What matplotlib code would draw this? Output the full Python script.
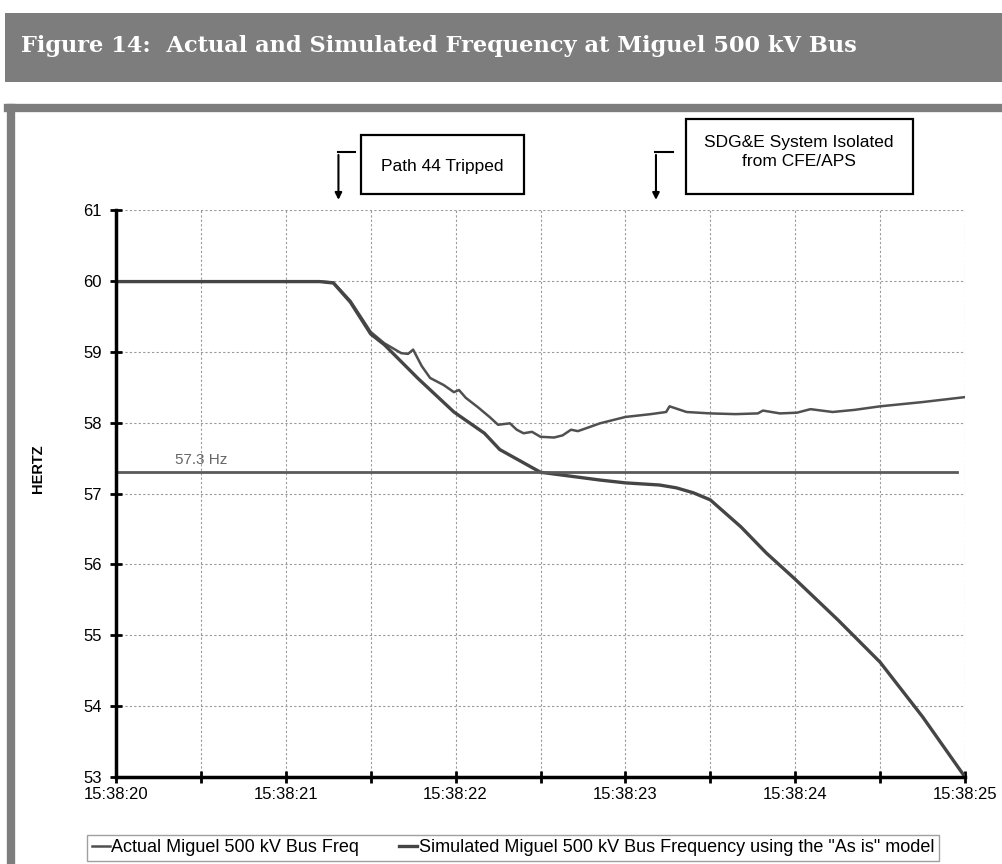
import matplotlib
matplotlib.use("Agg")
import matplotlib.pyplot as plt
from matplotlib.patches import Rectangle
from matplotlib.lines import Line2D
import matplotlib.transforms as mtransforms

plt.rcParams['font.family'] = ['Liberation Sans', 'DejaVu Sans']

# seconds after 15:38:20
actual_t = [0.0, 1.20, 1.28, 1.38, 1.50, 1.58, 1.68, 1.72, 1.75, 1.80, 1.85, 1.93,
            1.99, 2.02, 2.06, 2.13, 2.20, 2.25, 2.32, 2.36, 2.40, 2.45, 2.50, 2.58,
            2.63, 2.68, 2.72, 2.78, 2.85, 3.00, 3.15, 3.24, 3.26, 3.36, 3.50, 3.65,
            3.78, 3.81, 3.91, 4.01, 4.09, 4.22, 4.35, 4.50, 4.75, 5.0]
actual_f = [59.99, 59.99, 59.98, 59.72, 59.28, 59.12, 58.98, 58.97, 59.03, 58.80, 58.63, 58.53,
            58.43, 58.46, 58.35, 58.22, 58.08, 57.97, 57.99, 57.90, 57.85, 57.87, 57.80, 57.79,
            57.82, 57.90, 57.88, 57.93, 57.99, 58.08, 58.12, 58.15, 58.23, 58.15, 58.13, 58.12,
            58.13, 58.17, 58.13, 58.14, 58.19, 58.15, 58.18, 58.23, 58.29, 58.36]

sim_t = [0.0, 1.20, 1.28, 1.38, 1.50, 1.58, 1.78, 1.99, 2.17, 2.26, 2.50, 2.85,
         3.00, 3.20, 3.30, 3.40, 3.50, 3.68, 3.83, 4.00, 4.25, 4.50, 4.75, 5.0]
sim_f = [59.99, 59.99, 59.97, 59.70, 59.25, 59.10, 58.62, 58.15, 57.85, 57.62, 57.30, 57.19,
         57.15, 57.12, 57.08, 57.01, 56.91, 56.53, 56.16, 55.79, 55.22, 54.62, 53.85, 53.0]

threshold = 57.3
tick_labels = ["15:38:20", "15:38:21", "15:38:22", "15:38:23", "15:38:24", "15:38:25"]
events = [(1.31, "Path 44 Tripped"), (3.18, "SDG&E System Isolated\nfrom CFE/APS")]

W, H = 1002, 864
fig = plt.figure(figsize=(W / 100, H / 100), dpi=100)


def fx(px):
    return px / W


def fy(py):
    return 1 - py / H


# title banner
fig.patches.append(Rectangle((fx(5), fy(82)), fx(1002 - 5), 69 / H, transform=fig.transFigure,
                             facecolor="#7d7d7d", edgecolor="none"))
fig.text(fx(21), fy(46), "Figure 14:  Actual and Simulated Frequency at Miguel 500 kV Bus",
         color="white", fontsize=16.2, fontweight="bold", family="DejaVu Serif", va="center")

# outer frame
fig.add_artist(Line2D([fx(11), fx(11)], [fy(108), 0], transform=fig.transFigure,
                      color="#7d7d7d", lw=6))
fig.add_artist(Line2D([fx(8), 1], [fy(108), fy(108)], transform=fig.transFigure,
                      color="#7d7d7d", lw=6))

ax = fig.add_axes([fx(116), fy(777), fx(965 - 116), (777 - 210) / H])

ax.plot(actual_t, actual_f, color="#505050", lw=1.8, label="Actual Miguel 500 kV Bus Freq")
ax.plot(sim_t, sim_f, color="#454545", lw=2.4,
        label='Simulated Miguel 500 kV Bus Frequency using the "As is" model')
ax.plot([0, 4.95], [threshold, threshold], color="#5a5a5a", lw=2)
ax.text(0.35, threshold + 0.07, "57.3 Hz", color="#666666", fontsize=11, va="bottom")

ax.set_xlim(0, 5)
ax.set_ylim(53, 61)
ax.set_xticks(range(6))
ax.set_xticklabels(tick_labels)
ax.set_xticks([0.5, 1.5, 2.5, 3.5, 4.5], minor=True)
ax.set_yticks(range(53, 62))
ax.tick_params(axis="both", which="both", direction="inout", length=8, width=2, labelsize=12,
               colors="black")
ax.tick_params(axis="y", pad=6)
ax.grid(True, which="both", color="#999999", linestyle=(0, (2, 2)), lw=0.8)
for s in ["top", "right"]:
    ax.spines[s].set_visible(False)
for s in ["left", "bottom"]:
    ax.spines[s].set_linewidth(2.5)
fig.text(fx(38), fy(469), "HERTZ", fontsize=10.5, fontweight="bold", rotation=90,
         ha="center", va="center")

# event annotations
trans = mtransforms.blended_transform_factory(ax.transData, ax.transAxes)
for t, label in events:
    ax.annotate("", xy=(t, 1.013), xytext=(t, 1.102), xycoords=trans, textcoords=trans,
                arrowprops=dict(arrowstyle="-|>", color="black", lw=1.5, mutation_scale=10),
                annotation_clip=False)
    ax.plot([t - 0.005, t + 0.1], [1.102, 1.102], color="black", lw=1.5, transform=trans,
            clip_on=False)

fig.patches.append(Rectangle((fx(361), fy(194)), fx(524 - 361), 59 / H, transform=fig.transFigure,
                             facecolor="white", edgecolor="black", lw=1.6))
fig.text(fx(442), fy(166), events[0][1], fontsize=12.5, ha="center", va="center")
fig.patches.append(Rectangle((fx(686), fy(194)), fx(913 - 686), 75 / H, transform=fig.transFigure,
                             facecolor="white", edgecolor="black", lw=1.6))
fig.text(fx(799), fy(152), events[1][1], fontsize=12.5, ha="center", va="center",
         linespacing=1.3)

leg = fig.legend(loc="center", bbox_to_anchor=(fx(513), fy(848)), ncol=2, fontsize=13,
                 frameon=True, fancybox=False, edgecolor="#888888", handlelength=1.0,
                 handletextpad=0.1, columnspacing=2.2, borderpad=0.25, borderaxespad=0)
leg.get_frame().set_linewidth(1)

fig.savefig("out.png", dpi=100)
